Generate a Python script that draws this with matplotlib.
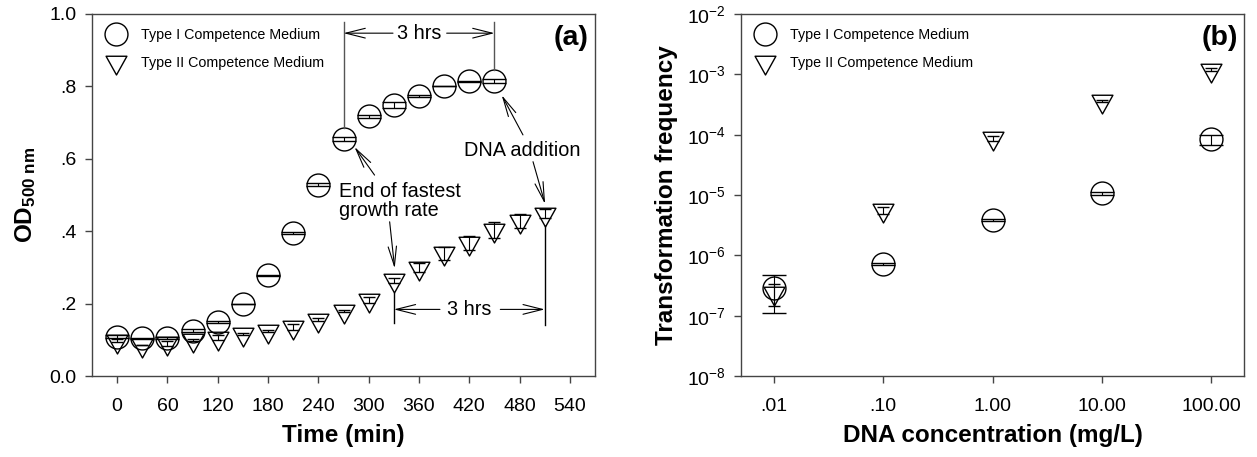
import numpy as np
import matplotlib.pyplot as plt
from matplotlib.path import Path

plt.rcParams['font.family'] = ['Liberation Sans', 'DejaVu Sans']
plt.rcParams['mathtext.fontset'] = 'custom'
plt.rcParams['mathtext.rm'] = 'Liberation Sans'
plt.rcParams['mathtext.bf'] = 'Liberation Sans:bold'
plt.rcParams['mathtext.it'] = 'Liberation Sans:italic'

# growth curves (OD500) sampled every 30 min
time_1 = np.arange(0, 451, 30)
od_1 = [0.109, 0.104, 0.105, 0.125, 0.150, 0.199, 0.278, 0.396,
        0.528, 0.654, 0.717, 0.748, 0.773, 0.801, 0.814, 0.814]
od_1_err = [0.003, 0.001, 0.003, 0.004, 0.003, 0.000, 0.001, 0.003,
            0.004, 0.006, 0.003, 0.008, 0.002, 0.001, 0.002, 0.006]

time_2 = np.arange(0, 511, 30)
od_2 = [0.097, 0.086, 0.090, 0.099, 0.106, 0.115, 0.124, 0.136, 0.155,
        0.180, 0.210, 0.264, 0.299, 0.339, 0.368, 0.403, 0.428, 0.448]
od_2_err = [0.004, 0.001, 0.006, 0.003, 0.006, 0.003, 0.003, 0.008, 0.004,
            0.003, 0.008, 0.006, 0.012, 0.018, 0.020, 0.022, 0.020, 0.012]

# transformation frequency vs DNA concentration
dna = [0.01, 0.1, 1.0, 10.0, 100.0]
dna_labels = ['.01', '.10', '1.00', '10.00', '100.00']
tf_1 = [2.9e-7, 7.1e-7, 3.8e-6, 1.07e-5, 8.4e-5]
tf_1_err = [1.8e-7, 3e-8, 1.5e-7, 7e-7, 1.6e-5]
tf_2 = [2.4e-7, 5.6e-6, 8.7e-5, 3.6e-4, 1.19e-3]
tf_2_err = [0.95e-7, 0.8e-6, 0.9e-5, 0.1e-4, 0.07e-3]

labels = ['Type I Competence Medium', 'Type II Competence Medium']

# down triangle centred on its centroid
tri = Path([(-1, 0.6), (1, 0.6), (0, -1.2), (-1, 0.6)],
           [Path.MOVETO, Path.LINETO, Path.LINETO, Path.CLOSEPOLY])

frame = '#444444'
circ_kw = dict(marker='o', ms=16.5, mfc='none', mec='black', mew=1, ls='none')
tri_kw = dict(marker=tri, ms=18, mfc='none', mec='black', mew=1, ls='none')
leg_kw = dict(loc='upper left', frameon=False, fontsize=10.3, handlelength=1.3,
              handletextpad=1.1, labelspacing=0.95, borderaxespad=0.6,
              borderpad=0.4)

fig = plt.figure(figsize=(12.57, 4.57), dpi=100)
ax1 = fig.add_axes([0.0732, 0.1772, 0.4002, 0.7922])
ax2 = fig.add_axes([0.5895, 0.1772, 0.4002, 0.7922])


def style_axes(ax):
    for s in ax.spines.values():
        s.set_color(frame)
        s.set_linewidth(1)
    ax.tick_params(direction='out', length=5, width=1, color=frame,
                   labelsize=14, top=False, right=False)
    ax.tick_params(axis='x', pad=11)
    ax.tick_params(axis='y', pad=6)


# ---- (a) growth curves ----
h1, = ax1.plot(time_1, od_1, **circ_kw)
ax1.errorbar(time_1, od_1, yerr=od_1_err, fmt='none', ecolor='black',
             elinewidth=0.8, capsize=8.3, capthick=1)
h2, = ax1.plot(time_2, od_2, **tri_kw)
ax1.errorbar(time_2, od_2, yerr=od_2_err, fmt='none', ecolor='black',
             elinewidth=0.8, capsize=4.3, capthick=1)

ax1.set_xlim(-30, 570)
ax1.set_ylim(0, 1.0)
ax1.set_xticks(np.arange(0, 541, 60))
ax1.set_yticks([0, 0.2, 0.4, 0.6, 0.8, 1.0])
ax1.set_yticklabels(['0.0', '.2', '.4', '.6', '.8', '1.0'])
style_axes(ax1)
ax1.set_xlabel('Time (min)', fontsize=17.5, fontweight='bold', labelpad=6)
ax1.set_ylabel(r'$\mathbf{OD_{500\ nm}}$', fontsize=17.5, labelpad=8)
ax1.text(0.987, 0.935, '(a)', transform=ax1.transAxes, ha='right',
         va='center', fontsize=20.5, fontweight='bold')
ax1.legend([h1, h2], labels, **leg_kw)

gray = '#555555'
arr = dict(arrowstyle='->,head_length=1.4,head_width=0.35', color='black',
           lw=0.8, shrinkA=0, shrinkB=0)
fan = dict(arrowstyle='->,head_length=1.4,head_width=0.3', color='black',
           lw=0.8, shrinkA=0, shrinkB=0)

# upper "3 hrs" bracket between 270 and 450 min
ax1.plot([270, 270], [0.979, 0.684], color=gray, lw=1)
ax1.plot([450, 450], [0.979, 0.845], color=gray, lw=1)
ax1.text(360, 0.947, '3 hrs', ha='center', va='center', fontsize=14.3)
ax1.annotate('', xy=(270, 0.947), xytext=(329, 0.947), arrowprops=arr)
ax1.annotate('', xy=(450, 0.947), xytext=(393, 0.947), arrowprops=arr)

# lower "3 hrs" bracket between 330 and 510 min
ax1.plot([330, 330], [0.229, 0.146], color='black', lw=1)
ax1.plot([510, 510], [0.413, 0.141], color='black', lw=1)
ax1.text(420, 0.184, '3 hrs', ha='center', va='center', fontsize=14.3)
ax1.annotate('', xy=(330, 0.184), xytext=(385, 0.184), arrowprops=arr)
ax1.annotate('', xy=(510, 0.184), xytext=(457, 0.184), arrowprops=arr)

ax1.text(264, 0.484, 'End of fastest\ngrowth rate', ha='left', va='center',
         fontsize=14.3, linespacing=1.0)
ax1.annotate('', xy=(283, 0.633), xytext=(307, 0.555), arrowprops=fan)
ax1.annotate('', xy=(331, 0.297), xytext=(325, 0.426), arrowprops=fan)

ax1.text(483, 0.624, 'DNA addition', ha='center', va='center', fontsize=14.3)
ax1.annotate('', xy=(458.6, 0.776), xytext=(484, 0.666), arrowprops=fan)
ax1.annotate('', xy=(510.4, 0.475), xytext=(496, 0.592), arrowprops=fan)

# ---- (b) transformation frequency ----
g1, = ax2.plot(dna, tf_1, **circ_kw)
ax2.errorbar(dna, tf_1, yerr=tf_1_err, fmt='none', ecolor='black',
             elinewidth=0.8, capsize=8.3, capthick=1)
g2, = ax2.plot(dna, tf_2, **tri_kw)
ax2.errorbar(dna, tf_2, yerr=tf_2_err, fmt='none', ecolor='black',
             elinewidth=0.8, capsize=4.3, capthick=1)

ax2.set_xscale('log')
ax2.set_yscale('log')
ax2.set_xlim(0.005, 200)
ax2.set_ylim(1e-8, 1e-2)
ax2.set_xticks(dna)
ax2.set_xticklabels(dna_labels)
ax2.minorticks_off()
ax2.set_yticks([10.0 ** e for e in range(-8, -1)])
ax2.set_yticklabels([r'10$^{\mathregular{-%d}}$' % e for e in range(8, 1, -1)])
style_axes(ax2)
ax2.set_xlabel('DNA concentration (mg/L)', fontsize=17.5, fontweight='bold',
               labelpad=6)
ax2.set_ylabel('Transformation frequency', fontsize=17.5, fontweight='bold',
               labelpad=6)
ax2.text(0.987, 0.935, '(b)', transform=ax2.transAxes, ha='right',
         va='center', fontsize=20.5, fontweight='bold')
ax2.legend([g1, g2], labels, **leg_kw)

fig.savefig('out.png', dpi=100)
